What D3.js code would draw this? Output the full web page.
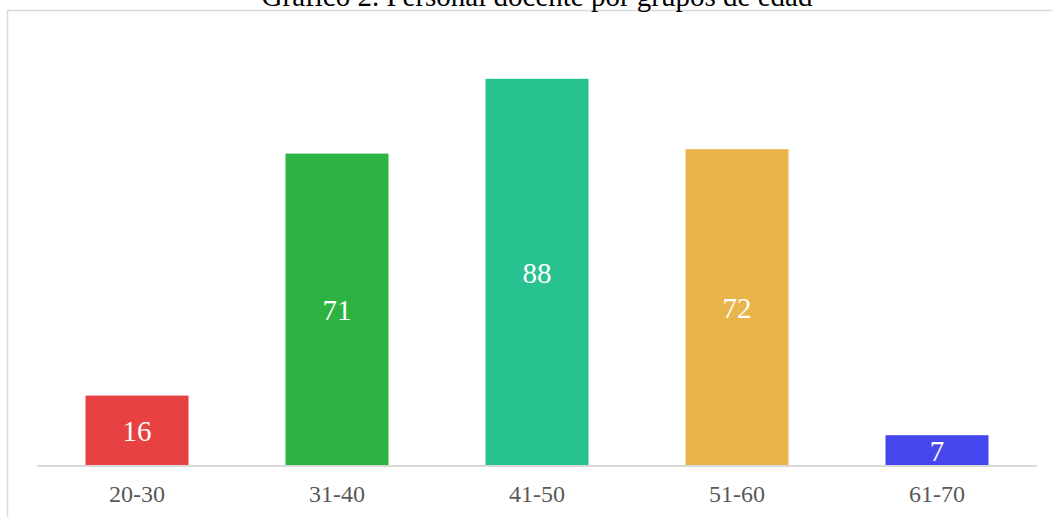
<!DOCTYPE html>
<html>
<head>
<meta charset="utf-8">
<script src="https://cdn.jsdelivr.net/npm/d3@7"></script>
<style>
  html, body { margin: 0; background: #fff; overflow: hidden; }
  svg { display: block; }
</style>
</head>
<body>
<div id="container"></div>
<script>
const title = "Gráfico 2. Personal docente por grupos de edad";
const groups = ["20-30", "31-40", "41-50", "51-60", "61-70"];
const counts = [16, 71, 88, 72, 7];
const colors = ["#E84142", "#2DB342", "#28C190", "#E9B449", "#4646EE"];

const width = 1052, height = 517;

var svg = d3.select("#container").append("svg")
    .attr("width", width)
    .attr("height", height);

// chart frame, runs off the right and bottom edges
svg.append("rect")
    .attr("x", 7.5)
    .attr("y", 10.5)
    .attr("width", width + 100)
    .attr("height", height + 100)
    .style("fill", "none")
    .style("stroke", "#d9d9d9")
    .style("stroke-width", 1.5);

svg.append("text")
    .attr("x", 537)
    .attr("y", 6)
    .attr("text-anchor", "middle")
    .style("font-family", "'Liberation Serif', 'Times New Roman', serif")
    .style("font-size", "29px")
    .style("fill", "#000")
    .text(title);

var x = d3.scaleBand()
    .domain(groups)
    .range([37, 1037])
    .paddingInner(0.485)
    .paddingOuter(0.2425);

var y = d3.scaleLinear()
    .domain([0, 100])
    .range([466, 26]);

var g = svg.append("g");

g.selectAll("rect.bar")
    .data(counts)
    .enter()
    .append("rect")
    .classed("bar", true)
    .attr("x", function(d, i){ return x(groups[i]); })
    .attr("y", function(d){ return y(d); })
    .attr("width", x.bandwidth())
    .attr("height", function(d){ return y(0) - y(d); })
    .style("fill", function(d, i){ return colors[i]; });

g.selectAll("text.vlabel")
    .data(counts)
    .enter()
    .append("text")
    .classed("vlabel", true)
    .attr("x", function(d, i){ return x(groups[i]) + x.bandwidth() / 2; })
    .attr("y", function(d){ return (y(d) + y(0)) / 2; })
    .attr("dy", "0.35em")
    .attr("text-anchor", "middle")
    .style("font-family", "'Liberation Serif', 'Times New Roman', serif")
    .style("font-size", "29px")
    .style("fill", "#fff")
    .text(function(d){ return d; });

// x axis
var xaxis = svg.append("g")
    .attr("transform", "translate(0," + y(0) + ")")
    .call(d3.axisBottom(x).tickSize(0).tickPadding(19));

xaxis.select(".domain")
    .attr("d", "M37,0H1037")
    .style("stroke", "#d9d9d9")
    .style("stroke-width", 2);

xaxis.selectAll("text")
    .style("font-family", "'Liberation Serif', 'Times New Roman', serif")
    .style("font-size", "24px")
    .style("fill", "#595959");
</script>
</body>
</html>
